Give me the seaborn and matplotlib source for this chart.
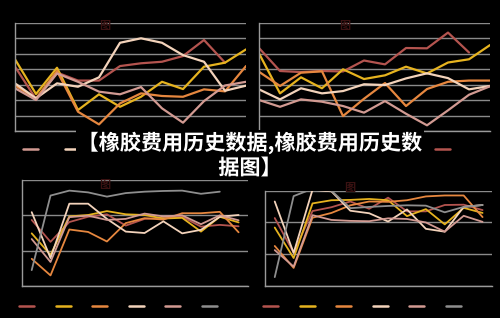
import numpy as np
import pandas as pd
import seaborn as sns
import matplotlib
matplotlib.use("Agg")
import matplotlib.pyplot as plt
import matplotlib.patheffects as pe
from matplotlib.lines import Line2D

sns.set_theme(style="dark")
plt.rcParams['font.family'] = ['Noto Sans CJK SC', 'DejaVu Sans']

nan = np.nan
x_points = list(range(12))

# top-left panel
tl_red    = [41.7, 20.7, 37.9, 32.7, 32.7, 42.1, 43.9, 44.9, 48.6, 59.0, 44.3, nan]
tl_yellow = [46.5, 24.0, 41.0, 13.6, 23.8, 15.7, 22.2, 31.9, 27.2, 41.7, 44.3, 52.9]
tl_orange = [29.5, 21.1, 38.9, 12.5, 4.3, 17.9, 24.4, 22.7, 22.2, 27.0, 25.7, 42.1]
tl_peach  = [30.9, 21.2, 30.9, 28.7, 34.8, 57.2, 60.1, 57.2, 49.2, 44.9, 26.1, 29.4]
tl_pink   = [27.7, 20.1, 37.3, 31.9, 25.5, 23.8, 28.5, 14.7, 5.4, 19.4, 29.5, 31.9]

# top-right panel
tr_red    = [53.8, 38.9, 38.2, 38.9, 38.6, 45.7, 43.2, 53.8, 53.6, 63.8, 50.9, nan]
tr_yellow = [50.3, 24.4, 34.8, 27.7, 40.0, 33.7, 36.1, 41.7, 37.3, 44.4, 46.5, 55.7]
tr_orange = [38.4, 29.2, 37.8, 38.7, 9.7, 20.9, 31.1, 16.2, 27.2, 31.9, 32.7, 32.7]
tr_peach  = [27.0, 20.5, 27.7, 24.4, 25.9, 30.3, 29.8, 34.1, 37.4, 34.3, 27.0, 29.2]
tr_pink   = [20.1, 15.7, 20.5, 19.0, 16.2, 11.9, 19.4, 11.2, 3.7, 13.4, 23.5, 29.0]

# bottom-left panel
bl_red    = [18.7, 12.5, 18.1, 19.6, 20.3, 17.1, 19.0, 19.3, 19.6, 16.8, 17.3, 16.9]
bl_yellow = [14.9, 8.8, 19.7, 20.1, 21.2, 20.3, 20.1, 19.1, 19.3, 15.4, 19.6, 18.0]
bl_orange = [7.7, 3.0, 16.0, 15.3, 12.6, 17.8, 19.2, 18.8, 20.6, 20.6, 21.0, 15.2]
bl_peach  = [20.9, 7.9, 23.3, 23.3, 19.0, 15.4, 15.0, 18.3, 14.9, 15.9, 19.6, 20.1]
bl_pink   = [13.3, 6.8, 19.5, 19.9, 18.7, 19.0, 20.5, 19.7, 20.0, 17.5, 20.0, 18.6]
bl_gray   = [4.5, 25.6, 27.0, 26.5, 25.3, 26.3, 26.7, 26.9, 27.0, 26.1, 26.7, nan]

# bottom-right panel
br_red    = [21.4, 10.5, 23.6, 24.8, 26.6, 24.3, 27.8, 23.5, 23.5, 25.5, 25.6, 23.9]
br_yellow = [18.4, 8.8, 26.0, 27.0, 27.1, 27.4, 27.0, 22.0, 24.2, 19.4, 24.6, 23.0]
br_orange = [12.6, 5.7, 21.5, 23.0, 25.4, 26.6, 26.5, 27.0, 28.2, 28.5, 28.5, 21.7]
br_peach  = [26.6, 10.4, 30.3, 29.8, 23.7, 22.9, 20.3, 24.1, 18.0, 17.1, 24.9, 25.5]
br_pink   = [11.3, 6.1, 22.3, 20.8, 20.5, 20.4, 21.3, 21.1, 20.0, 17.1, 22.1, 20.2]
br_gray   = [2.8, 28.3, 30.6, 30.0, 24.5, 24.9, 25.2, 25.4, 25.3, 23.2, 24.9, 25.5]

title_line1 = "【橡胶费用历史数据,橡胶费用历史数"
title_line2 = "据图】"

colors = {
    "red": "#b4544f",
    "yellow": "#e6b31f",
    "orange": "#e6873f",
    "peach": "#f3d3bb",
    "pink": "#d29a92",
    "gray": "#8e8e8e",
}

BG = "#000000"
GRID = "#8a8a8a"

fig = plt.figure(figsize=(5.0, 3.18), dpi=100, facecolor=BG)


def make_df(series):
    rows = []
    for name, vals in series.items():
        for xi, v in zip(x_points, vals):
            rows.append({"x": xi, "value": v, "series": name})
    return pd.DataFrame(rows)


def panel(rect, series, ymax, xlim, lw):
    ax = fig.add_axes(rect)
    ax.set_facecolor(BG)
    df = make_df(series)
    names = list(series.keys())
    sns.lineplot(data=df, x="x", y="value", hue="series", hue_order=names,
                 palette={n: colors[n] for n in names}, linewidth=lw,
                 legend=False, ax=ax, sort=False)
    ax.set_xlim(*xlim)
    ax.set_ylim(0, ymax)
    ax.set_yticks(np.arange(0, ymax + 1, 10))
    ax.grid(True, axis="y", color=GRID, linewidth=1.0)
    ax.grid(False, axis="x")
    ax.tick_params(left=False, bottom=False, labelleft=False, labelbottom=False)
    ax.set_xlabel("")
    ax.set_ylabel("")
    for s in ["top", "right"]:
        ax.spines[s].set_visible(False)
    for s in ["left", "bottom"]:
        ax.spines[s].set_visible(True)
        ax.spines[s].set_color("#9a9a9a")
        ax.spines[s].set_linewidth(1.0)
    ax.set_axisbelow(True)
    return ax


top_series_l = {"red": tl_red, "yellow": tl_yellow, "orange": tl_orange,
                "peach": tl_peach, "pink": tl_pink}
top_series_r = {"red": tr_red, "yellow": tr_yellow, "orange": tr_orange,
                "peach": tr_peach, "pink": tr_pink}
bot_series_l = {"red": bl_red, "yellow": bl_yellow, "orange": bl_orange,
                "peach": bl_peach, "pink": bl_pink, "gray": bl_gray}
bot_series_r = {"red": br_red, "yellow": br_yellow, "orange": br_orange,
                "peach": br_peach, "pink": br_pink, "gray": br_gray}

ax_tl = panel([0.030, 0.588, 0.462, 0.3396], top_series_l, 70, (0, 11), 1.6)
ax_tr = panel([0.518, 0.588, 0.462, 0.3396], top_series_r, 70, (0, 11), 1.6)
ax_bl = panel([0.0446, 0.1006, 0.4514, 0.3333], bot_series_l, 30, (-0.5, 11.5), 1.3)
ax_br = panel([0.5306, 0.1006, 0.4534, 0.2997], bot_series_r, 30, (-0.5, 11.5), 1.3)

# faint watermark marks
for (xf, yf) in [(0.21, 0.92), (0.69, 0.92), (0.21, 0.42), (0.70, 0.41)]:
    fig.text(xf, yf, "图", color="#3a1212", fontsize=8, ha="center", va="center",
             fontweight="bold")


def add_legend(order, x0_px, y_px, spacing_px):
    handles = [Line2D([], [], color=colors[n], linewidth=1.8) for n in order]
    fs = 10.0
    fs_px = fs * 100 / 72
    dash_px = 15
    leg = fig.legend(handles, [""] * len(handles), loc="center left",
                     bbox_to_anchor=(x0_px / 500, 1 - y_px / 318),
                     bbox_transform=fig.transFigure, ncol=len(handles),
                     frameon=False, fontsize=fs, borderpad=0, borderaxespad=0,
                     handlelength=dash_px / fs_px, handletextpad=0,
                     columnspacing=(spacing_px - dash_px) / fs_px)
    return leg


add_legend(["pink", "peach", "yellow", "orange", "red"], 23, 150, 42)
add_legend(["pink", "peach", "yellow", "orange", "red"], 267, 150, 42)
add_legend(["red", "yellow", "orange", "peach", "pink", "gray"], 19, 307, 36.6)
add_legend(["red", "yellow", "orange", "peach", "pink", "gray"], 263, 307, 36.6)

stroke = [pe.withStroke(linewidth=3, foreground="black")]
fig.text(0.5, 1 - 143 / 318, title_line1, ha="center", va="center",
         color="white", fontsize=15.2, fontweight="bold", path_effects=stroke,
         bbox=dict(boxstyle="square,pad=0.08", facecolor="black",
                   edgecolor="none"), zorder=10)
fig.text(0.5, 1 - 168 / 318, title_line2, ha="center", va="center",
         color="white", fontsize=15.2, fontweight="bold", path_effects=stroke,
         zorder=10)

fig.savefig("out.png", dpi=100, facecolor=BG)
